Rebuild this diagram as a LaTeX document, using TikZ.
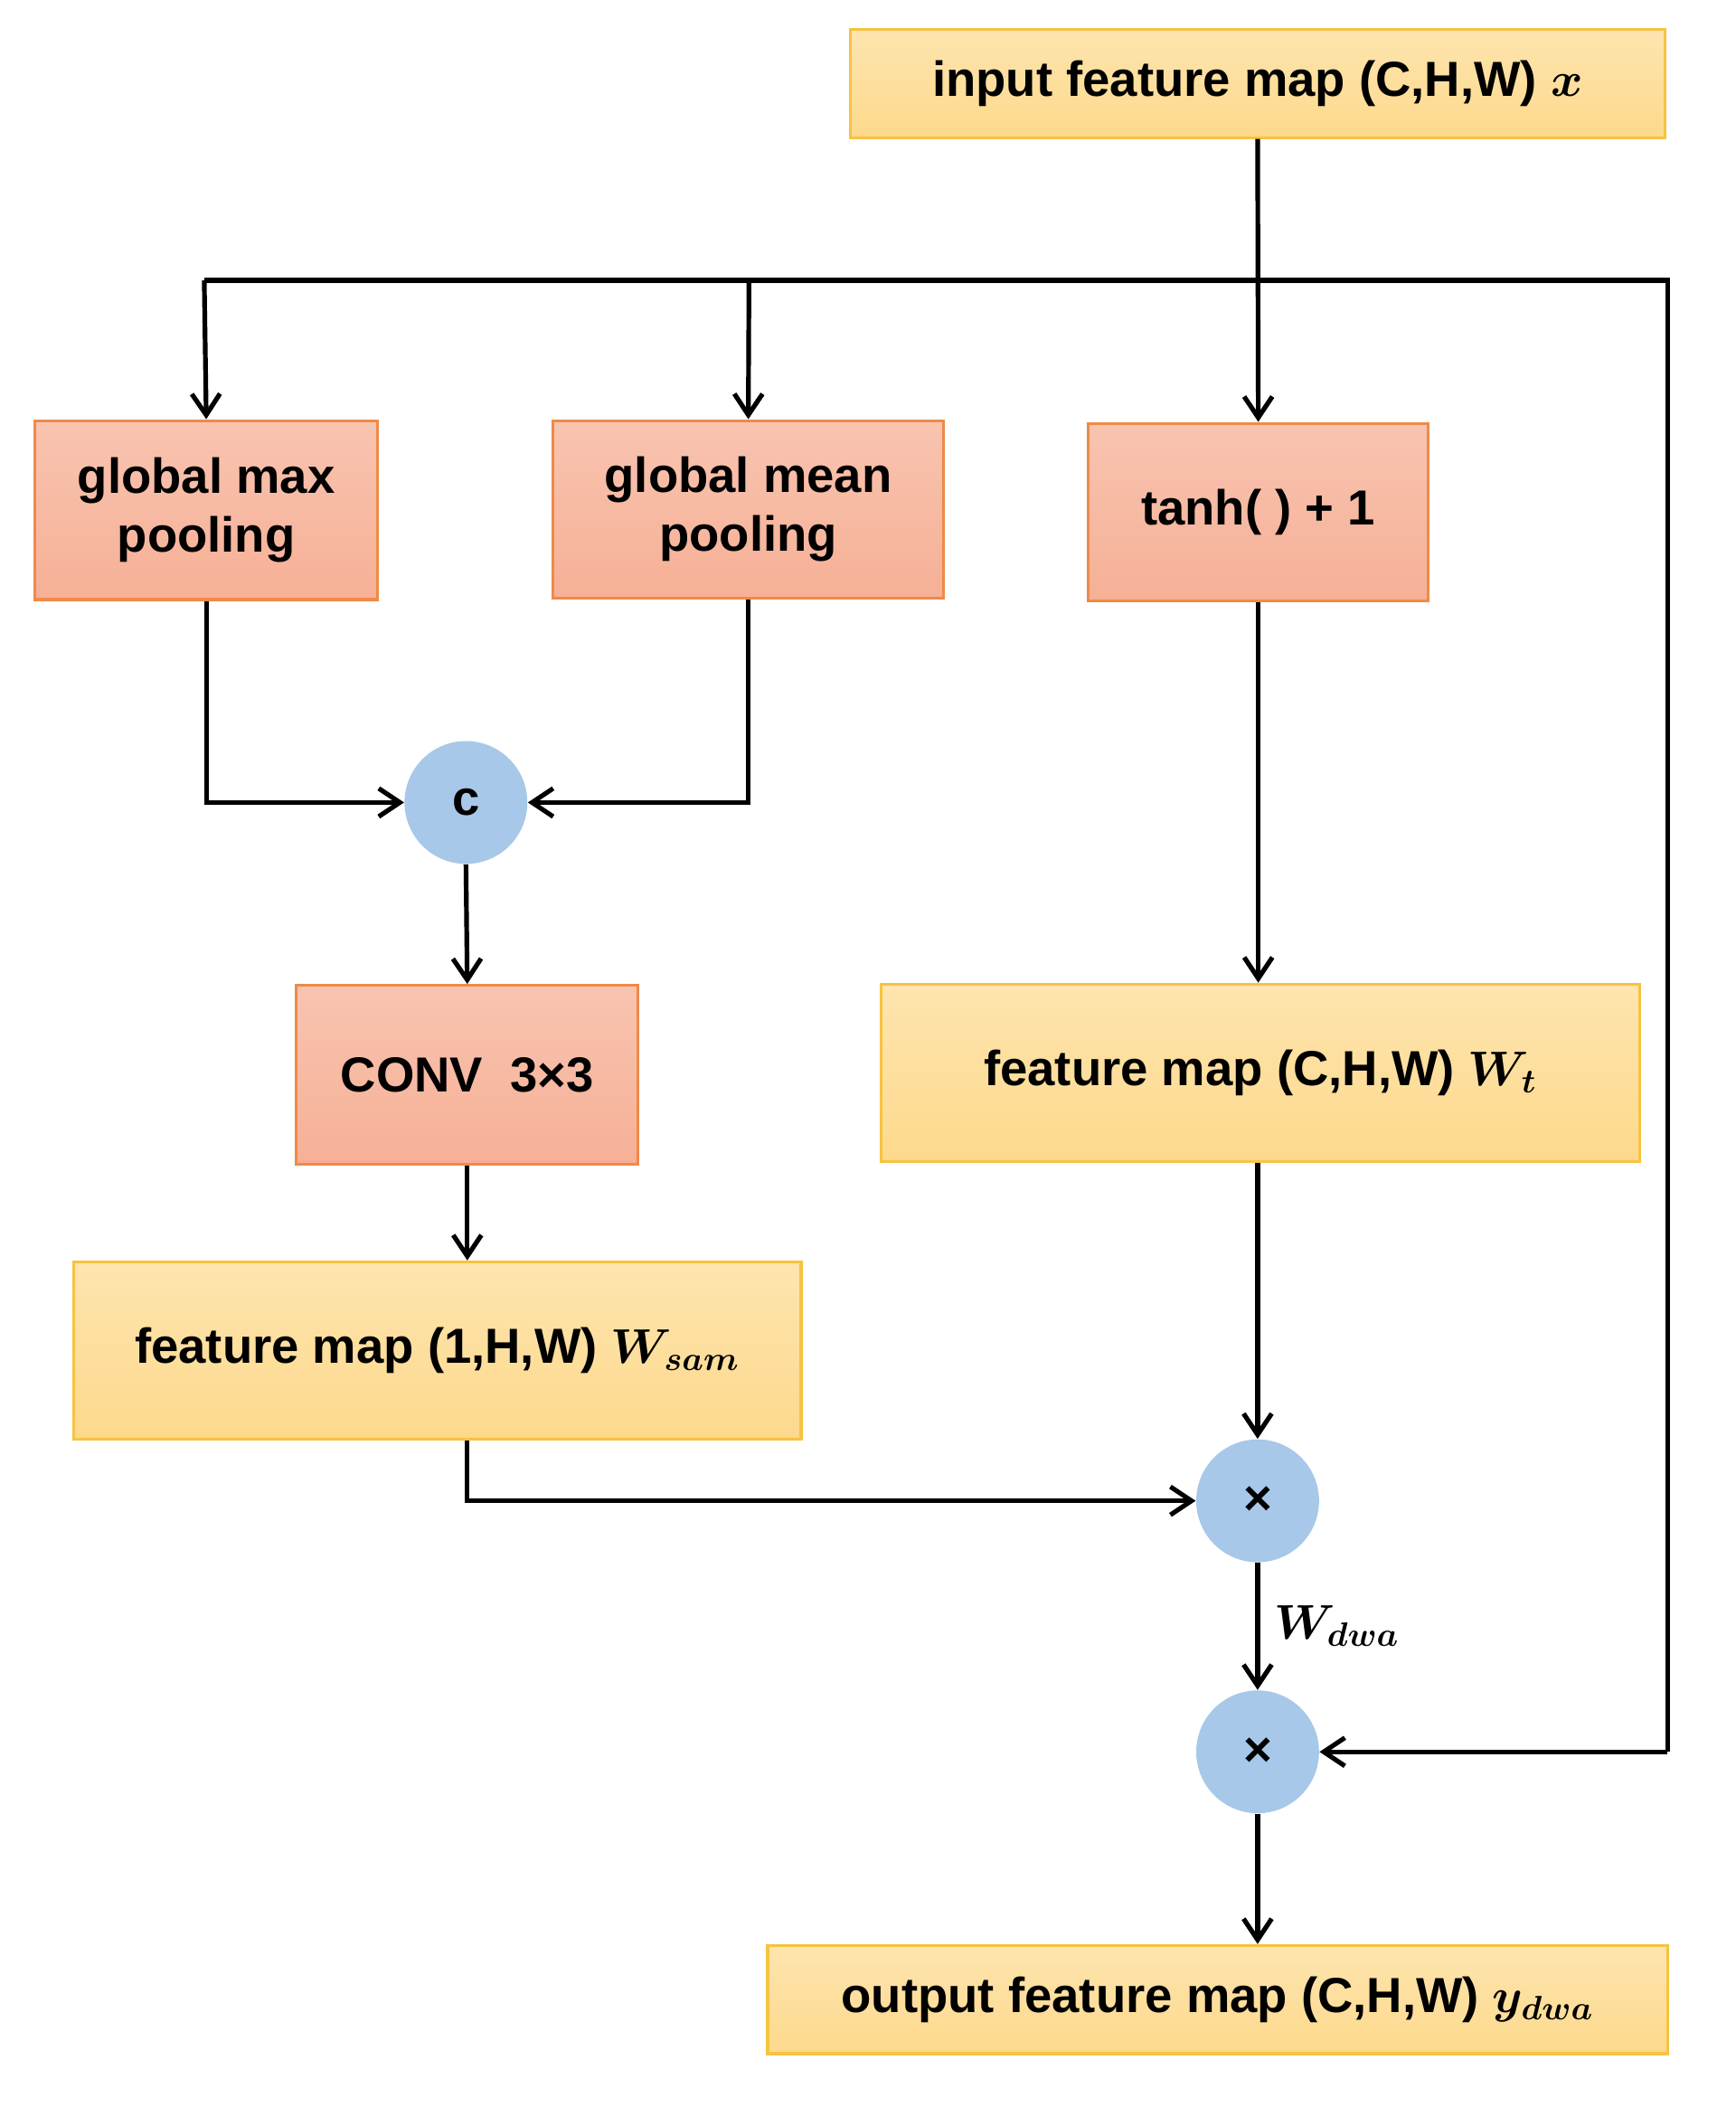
\documentclass[tikz,border=0pt]{standalone}
\usepackage{amsmath,bm}
\usepackage{fontspec}
\setmainfont{Liberation Sans}
\usetikzlibrary{arrows.meta}
\definecolor{ybox}{HTML}{FDD98C}
\definecolor{ybord}{HTML}{F6C342}
\definecolor{rbox}{HTML}{F6B096}
\definecolor{rbord}{HTML}{EE8A48}
\definecolor{bc}{HTML}{A7C8E8}
\begin{document}
\begin{tikzpicture}[x=0.02cm,y=-0.02cm,
  every node/.style={font=\fontsize{21}{25}\selectfont\bfseries, align=center, inner sep=0pt},
  yb/.style={draw=ybord, line width=1.2pt, top color=ybox!70, bottom color=ybox},
  rb/.style={draw=rbord, line width=1.2pt, top color=rbox!75, bottom color=rbox},
  circ/.style={circle, fill=bc, minimum size=92*0.02cm},
  ln/.style={line width=2pt},
  ar/.style={ln, -{Straight Barb[length=9pt,width=12pt]}}]
\useasboundingbox (0,0) rectangle (1300,1578);
\node[yb, minimum width=610*0.02cm, minimum height=81*0.02cm] (in) at (942,62.5) {input feature map (C,H,W) $\bm{x}$};
\node[rb, minimum width=257*0.02cm, minimum height=134*0.02cm] (max) at (154.5,382) {global max\\pooling};
\node[rb, minimum width=293*0.02cm, minimum height=133*0.02cm] (mean) at (560.5,381.5) {global mean\\pooling};
\node[rb, minimum width=255*0.02cm, minimum height=133*0.02cm] (tanh) at (942.5,383.5) {tanh( ) + 1};
\node[circ] (c) at (349,601) {c};
\node[rb, minimum width=256*0.02cm, minimum height=134*0.02cm] (conv) at (350,805) {CONV\ \ 3×3};
\node[yb, minimum width=545*0.02cm, minimum height=133*0.02cm] (sam) at (327.5,1011.5) {feature map (1,H,W) $\bm{W_{sam}}$};
\node[yb, minimum width=568*0.02cm, minimum height=133*0.02cm] (wt) at (944,803.5) {feature map (C,H,W) $\bm{W_t}$};
\node[circ] (m1) at (942,1124) {×};
\node[circ] (m2) at (942,1312) {×};
\node[yb, minimum width=674*0.02cm, minimum height=81*0.02cm] (out) at (912,1497.5) {output feature map (C,H,W) $\bm{y_{dwa}}$};
\coordinate (tl) at (153,210);
\coordinate (tm) at (561,210);
\coordinate (tr) at (1249,210);
\coordinate (br) at (1249,1312);
\draw[ar] (in.south) -- (tanh.north);
\draw[ln] (tl) -- (tr) -- (br);
\draw[ar] (br) -- (m2.east);
\draw[ar] (tl) -- (max.north);
\draw[ar] (tm) -- (mean.north);
\draw[ar] (max.south) |- (c.west);
\draw[ar] (mean.south) |- (c.east);
\draw[ar] (c.south) -- (conv.north);
\draw[ar] (conv.south) -- (conv.south |- sam.north);
\draw[ar] (tanh.south) -- (tanh.south |- wt.north);
\draw[ar] (wt.south -| m1) -- (m1.north);
\draw[ar] (sam.south -| conv) |- (m1.west);
\draw[ar] (m1.south) -- node[right=6pt, font=\fontsize{21}{25}\selectfont] {$\bm{W_{dwa}}$} (m2.north);
\draw[ar] (m2.south) -- (out.north -| m2);
\end{tikzpicture}
\end{document}
